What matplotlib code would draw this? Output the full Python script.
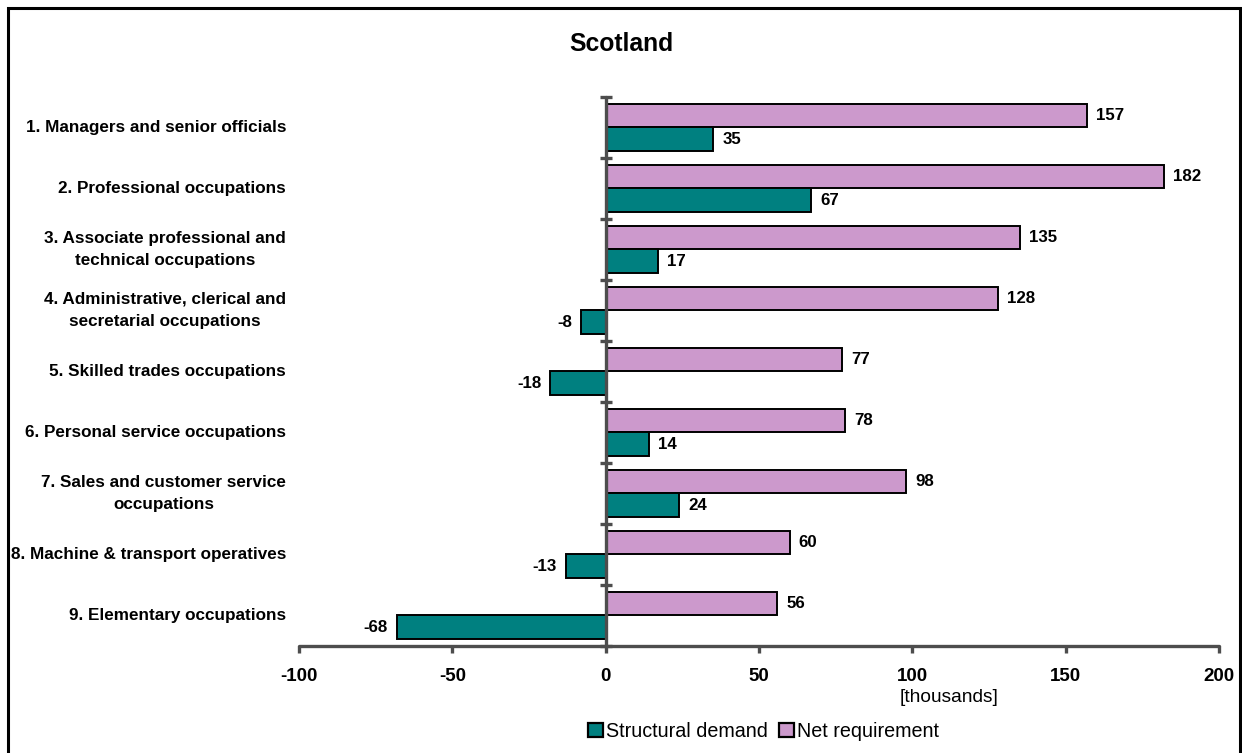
import matplotlib
matplotlib.use("Agg")
import matplotlib.pyplot as plt
from matplotlib.patches import Rectangle, Patch
import numpy as np

plt.rcParams['font.family'] = ['Liberation Sans', 'DejaVu Sans']

categories = [
    "1. Managers and senior officials",
    "2. Professional occupations",
    "3. Associate professional and\ntechnical occupations",
    "4. Administrative, clerical and\nsecretarial occupations",
    "5. Skilled trades occupations",
    "6. Personal service occupations",
    "7. Sales and customer service\noccupations",
    "8. Machine & transport operatives",
    "9. Elementary occupations",
]
net_requirement = [157, 182, 135, 128, 77, 78, 98, 60, 56]
structural_demand = [35, 67, 17, -8, -18, 14, 24, -13, -68]
x_ticks = [-100, -50, 0, 50, 100, 150, 200]

TEAL = "#008080"
PINK = "#CC99CC"
AXIS = "#4d4d4d"

fig = plt.figure(figsize=(12.42, 7.53), dpi=100)
ax = fig.add_axes([0.2407, 0.1421, 0.9815 - 0.2407, 0.8712 - 0.1421])

y = np.arange(len(categories))
h = 0.39
ax.barh(y - h / 2, net_requirement, height=h, color=PINK, edgecolor="black", linewidth=1.4, zorder=2)
ax.barh(y + h / 2, structural_demand, height=h, color=TEAL, edgecolor="black", linewidth=1.4, zorder=2)

ax.set_xlim(-100, 200)
ax.set_ylim(len(categories) - 0.5, -0.5)

# value labels
for yi, v in zip(y - h / 2, net_requirement):
    ax.text(v + 3, yi, f"{v}", va="center", ha="left", fontsize=12.2, fontweight="bold")
for yi, v in zip(y + h / 2, structural_demand):
    if v >= 0:
        ax.text(v + 3, yi, f"{v}", va="center", ha="left", fontsize=12.2, fontweight="bold")
    else:
        ax.text(v - 3, yi, f"{v}", va="center", ha="right", fontsize=12.2, fontweight="bold")

# category labels to the left of the plot area
for yi, lab in zip(y, categories):
    ax.text(-0.014, yi, lab, transform=ax.get_yaxis_transform(), ha="right", va="center",
            multialignment="center", linespacing=1.6, fontsize=12.3, fontweight="bold")

# spines
for s in ["top", "right"]:
    ax.spines[s].set_visible(False)
ax.spines["left"].set_position(("data", 0))
for s in ["left", "bottom"]:
    ax.spines[s].set_color(AXIS)
    ax.spines[s].set_linewidth(2.4)
    ax.spines[s].set_capstyle("round")

ax.set_yticks(np.arange(-0.5, len(categories), 1.0))
ax.set_yticklabels([])
ax.tick_params(axis="y", direction="inout", length=9, width=2.4, color=AXIS)
ax.set_xticks(x_ticks)
ax.set_xticklabels([str(t) for t in x_ticks], fontsize=13.5, fontweight="bold")
ax.tick_params(axis="x", direction="out", length=5, width=2.4, color=AXIS, pad=11)

fig.text(0.5, 0.941, "Scotland", ha="center", va="center", fontsize=17.8, fontweight="bold")
fig.text(900 / 1242, 1 - 697 / 753, "[thousands]", ha="left", va="center", fontsize=13.8)

handles = [Patch(facecolor=TEAL, edgecolor="black", linewidth=1.6, label="Structural demand"),
           Patch(facecolor=PINK, edgecolor="black", linewidth=1.6, label="Net requirement")]
fig.legend(handles=handles, loc="center", bbox_to_anchor=(0.6147, 0.029), ncol=2, frameon=False,
           fontsize=14.2, handlelength=0.75, handleheight=0.75, handletextpad=0.15, columnspacing=0.6)

# outer frame
fig.add_artist(Rectangle((8 / 1242, -0.01), (1240 - 8) / 1242, 1 - 8 / 753 + 0.01, transform=fig.transFigure,
                         fill=False, edgecolor="black", linewidth=2.2))

fig.savefig("out.png", dpi=100)
